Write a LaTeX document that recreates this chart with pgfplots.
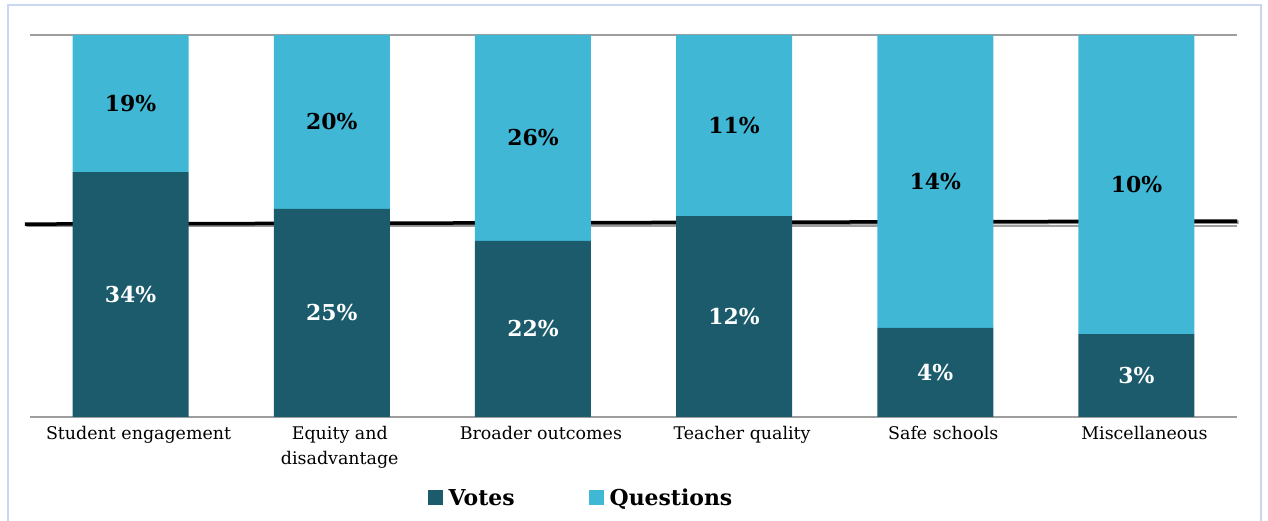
\documentclass[border=0pt]{standalone}
\usepackage{pgfplots}
\pgfplotsset{compat=1.18}
\usepackage{pgfplotstable}
\usepackage{fontspec}
\setmainfont{DejaVu Serif}
\definecolor{votes}{RGB}{27,91,107}
\definecolor{quest}{RGB}{64,184,213}
\definecolor{frameblue}{RGB}{201,216,240}

% shares of each bar (percent of bar height) and the printed labels
\pgfplotstableread{
x votes quest vl ql
0 64.1 35.9 34 19
1 54.5 45.5 25 20
2 46.1 53.9 22 26
3 52.6 47.4 12 11
4 23.3 76.7 4 14
5 21.7 78.3 3 10
}\data

\begin{document}
\begin{tikzpicture}[x=1bp,y=1bp]
\useasboundingbox (0,0) rectangle (1268,521);
\draw[frameblue, line width=1.5bp] (8,-5) rectangle (1261,516);
\begin{axis}[
    at={(30bp,104bp)}, anchor=south west,
    scale only axis, width=1207bp, height=382bp,
    ybar stacked, bar width=116bp,
    xmin=-0.5, xmax=5.5, ymin=0, ymax=100,
    xtick={0,...,5},
    xticklabels={Student engagement, {Equity and\\disadvantage}, Broader outcomes, Teacher quality, Safe schools, Miscellaneous},
    xticklabel style={align=center, xshift=8bp, yshift=-6bp, font=\fontsize{17.5}{25}\selectfont},
    ytick={0,50,100}, yticklabels={},
    major tick length=0pt,
    ymajorgrids,
    grid style={line width=1.5bp, color=black!38},
    axis line style={draw=none},
    clip=false,
    legend style={at={(0.4565,-0.212)}, anchor=center, draw=none, fill=none,
        legend columns=2, font=\bfseries\fontsize{22}{26}\selectfont,
        /tikz/every even column/.append style={column sep=72bp}},
    legend image code/.code={\fill[#1] (0bp,-7.5bp) rectangle (15bp,7.5bp); \path (19bp,0bp);},
    point meta=explicit symbolic,
    nodes near coords={\pgfplotspointmeta\%},
    every node near coord/.append style={anchor=center,
        font=\bfseries\fontsize{22}{26}\selectfont},
]
\addplot[fill=votes, draw=none, nodes near coords style={text=white}]
    table[x=x, y=votes, meta=vl] {\data};
\addlegendentry{Votes}
\addplot[fill=quest, draw=none, nodes near coords style={text=black}]
    table[x=x, y=quest, meta=ql] {\data};
\addlegendentry{Questions}
\draw[black, line width=3.5bp,
      preaction={draw=black!45, line width=3.5bp, transform canvas={xshift=1.5bp, yshift=-1bp}}]
    (axis cs:-0.525,50.5) -- (axis cs:5.5,51.3);
\end{axis}
\end{tikzpicture}
\end{document}
